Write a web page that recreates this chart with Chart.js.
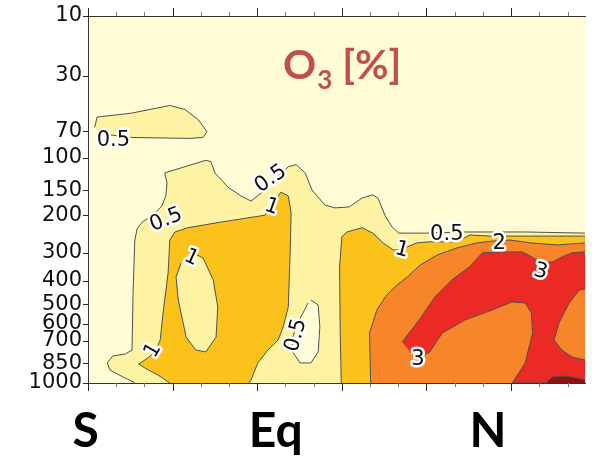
<!DOCTYPE html>
<html>
<head>
<meta charset="utf-8">
<script src="https://cdn.jsdelivr.net/npm/chart.js@4/dist/chart.umd.min.js"></script>
<style>
  html, body { margin: 0; padding: 0; background: #ffffff; }
  #wrap { width: 592px; height: 459px; position: relative; }
</style>
</head>
<body>
<div id="wrap"><canvas id="c" width="592" height="459"></canvas></div>
<script>
// Axis definitions: latitude (deg) across, pressure (hPa) down
const latTicks = [-30, -25, -20, -15, -10, -5, 0, 5, 10, 15, 20, 25, 30, 35, 40, 45, 50, 55];
const latMajorStep = 15;
const latMin = -30;
const latMax = 58.1;
const pressureTicks = [10, 30, 70, 100, 150, 200, 300, 400, 500, 600, 700, 850, 1000];
const zoneLabels = ['S', 'Eq', 'N'];
const zoneLat = [-30.4, 3.3, 40.9];

// Contour bands of the O3 change [%], as [lat, hPa] outlines
const band05Island = [[-28.8,66],[-28.4,57],[-22.5,54],[-15.5,48],[-12.8,51],[-10.5,59],[-8.9,70],[-9.6,76],[-11.9,77],[-22.5,76],[-28,72]];
const band05Main = [[-21.7,1000],[-22.0,991],[-23.8,952],[-26.1,898],[-26.6,846],[-25.6,797],[-23.4,784],[-22.2,757],
  [-22.0,437],[-21.7,263],[-21.3,233],[-20.4,216],[-18.7,202],[-16.9,180],[-16.2,160],[-16.0,137],[-16.4,121],
  [-9.1,103],[-8.2,105],[-7.5,121],[-5.2,144],[-2.9,160],[-1.1,170],[0.9,153],[3.3,129],[5.5,112],[6.9,109],
  [8.5,121],[9.7,149],[10.6,160],[12.0,178],[13.8,184],[16.3,182],[18.6,164],[20.5,158],[21.4,164],[22.7,202],
  [23.9,228],[25.1,244],[29.8,244],[36.8,241],[47.5,241],[58.1,244],[60,244],[60,1000]];
const band05Hole = [[9.5,481],[10.8,504],[11.1,617],[10.8,770],[9.5,846],[7.6,846],[6.4,777],[6.2,694],[6.9,607],[8.1,544],[9.0,495]];
const band1West = [[-15.5,1000],[-17.6,936],[-19.9,883],[-21.0,854],[-19.4,811],[-18.1,770],[-17.2,694],[-16.7,544],
  [-15.8,370],[-15.5,263],[-14.6,241],[-12.3,230],[-6.4,216],[1.4,200],[2.6,178],[4.2,153],[5.5,160],[6.0,195],
  [5.9,263],[5.7,370],[5.5,514],[4.6,617],[3.7,694],[1.9,757],[0.1,846],[-1.1,976],[-1.5,1000]];
const band1WestHole = [[-11.7,298],[-9.6,318],[-7.8,396],[-7.0,514],[-7.3,676],[-9.1,770],[-10.9,757],[-12.6,676],[-14.0,481],[-14.4,385],[-13.5,334]];
const band1East = [[14.9,1000],[14.7,635],[14.6,348],[15.0,254],[15.9,241],[18.6,230],[20.5,244],[22.3,271],[24.1,292],
  [25.3,292],[28.3,271],[30.6,268],[35.4,268],[37.7,249],[41.3,252],[48.4,252],[60,252],[60,1000]];
const band2 = [[20.1,1000],[19.9,652],[21.2,529],[22.7,467],[24.4,424],[26.6,385],[28.9,341],[31.9,308],[35.4,286],
  [39.0,271],[41.6,266],[44.8,263],[48.4,271],[53.2,277],[58.1,271],[60,271],[60,1000]];
const band3 = [[25.7,706],[28.7,580],[31.5,467],[34.5,396],[37.6,348],[39.9,301],[42.9,298],[47.0,298],[48.7,314],
  [50.1,331],[52.3,331],[54.0,314],[55.8,301],[58.1,298],[60,298],[60,424],[57.1,437],[55.3,495],[53.5,595],
  [52.6,694],[54.0,757],[55.8,804],[58.1,825],[60,825],[60,1000],[45.2,1000],[47.5,846],[48.8,652],[48.6,544],
  [47.5,495],[45.2,490],[41.6,529],[36.8,580],[32.8,652],[30.6,770],[28.9,804],[27.1,770]];
const band4 = [[51.2,1000],[52.3,952],[54.6,944],[56.9,960],[58.1,976],[60,980],[60,1000]];

// Contour level labels
const contourLabels = [
  { text: '0.5', lat: -25.5, p: 78,  angle: 0 },
  { text: '0.5', lat: -16.2, p: 209, angle: -22 },
  { text: '0.5', lat: 2.3,   p: 129, angle: -35 },
  { text: '1',   lat: 2.6,   p: 180, angle: 20 },
  { text: '1',   lat: -11.6, p: 314, angle: 25 },
  { text: '1',   lat: -18.6, p: 757, angle: -60 },
  { text: '0.5', lat: 6.7,   p: 664, angle: -75 },
  { text: '1',   lat: 25.7,  p: 289, angle: 15 },
  { text: '0.5', lat: 33.6,  p: 244, angle: 0 },
  { text: '2',   lat: 42.9,  p: 271, angle: 0 },
  { text: '3',   lat: 50.3,  p: 362, angle: 15 },
  { text: '3',   lat: 28.5,  p: 818, angle: 0 }
];

const CREAM = '#FFFCD6';
const LIGHT = '#FDF3A2';
const YELLOW = '#FCC21C';
const ORANGE = '#F7862B';
const RED = '#EB2A25';
const DARK = '#8A1414';

// vertical coordinate: pressure to the 0.2 power
const toZ = p => Math.pow(p, 0.2);

function band(points, color, order) {
  return {
    data: points.map(([lat, p]) => ({ x: lat, y: toZ(p) })),
    backgroundColor: color,
    borderColor: '#505050',
    borderWidth: 1,
    pointRadius: 0,
    pointHoverRadius: 0,
    fill: 'shape',
    tension: 0,
    order: order
  };
}

const datasets = [
  band(band05Island, LIGHT, 10),
  band(band05Main, LIGHT, 10),
  band(band05Hole, CREAM, 9),
  band(band1West, YELLOW, 8),
  band(band1East, YELLOW, 8),
  band(band1WestHole, LIGHT, 7),
  band(band2, ORANGE, 6),
  band(band3, RED, 5),
  band(band4, DARK, 4)
];

const areaBackground = {
  id: 'areaBackground',
  beforeDraw(chart) {
    const { ctx, chartArea: a } = chart;
    ctx.save();
    ctx.fillStyle = CREAM;
    ctx.fillRect(a.left, a.top, a.right - a.left, a.bottom - a.top);
    ctx.restore();
  }
};

const levelLabels = {
  id: 'levelLabels',
  afterDatasetsDraw(chart) {
    const { ctx, scales } = chart;
    ctx.save();
    ctx.font = '21px "DejaVu Sans"';
    ctx.textAlign = 'center';
    ctx.textBaseline = 'middle';
    ctx.lineJoin = 'round';
    contourLabels.forEach(l => {
      const x = scales.x.getPixelForValue(l.lat);
      const y = scales.y.getPixelForValue(toZ(l.p));
      ctx.save();
      ctx.translate(x, y);
      ctx.rotate(l.angle * Math.PI / 180);
      ctx.strokeStyle = '#ffffff';
      ctx.lineWidth = 5;
      ctx.strokeText(l.text, 0, 1);
      ctx.fillStyle = '#111111';
      ctx.fillText(l.text, 0, 1);
      ctx.restore();
    });
    ctx.restore();
  }
};

// outward tick marks on the frame, longer at every 15 degrees
const tickMarks = {
  id: 'tickMarks',
  afterDraw(chart) {
    const { ctx, scales, chartArea: a } = chart;
    ctx.save();
    ctx.lineWidth = 1;
    latTicks.forEach(v => {
      const x = Math.round(scales.x.getPixelForValue(v)) + 0.5;
      const major = v % latMajorStep === 0;
      ctx.strokeStyle = major ? '#2a2a2a' : '#7a7a7a';
      const len = major ? 8 : 4;
      ctx.beginPath();
      ctx.moveTo(x, a.top); ctx.lineTo(x, a.top - len);
      ctx.moveTo(x, a.bottom); ctx.lineTo(x, a.bottom + len);
      ctx.stroke();
    });
    ctx.strokeStyle = '#2a2a2a';
    pressureTicks.forEach(p => {
      const y = Math.round(scales.y.getPixelForValue(toZ(p))) + 0.5;
      ctx.beginPath();
      ctx.moveTo(a.left, y); ctx.lineTo(a.left - 5, y);
      ctx.stroke();
    });
    ctx.restore();
  }
};

const annotations = {
  id: 'annotations',
  afterDraw(chart) {
    const { ctx, scales } = chart;
    ctx.save();
    // panel title: O3 [%]
    ctx.fillStyle = '#C0504D';
    ctx.textAlign = 'left';
    ctx.textBaseline = 'alphabetic';
    let x = 283;
    ctx.font = '700 41px Lato';
    ctx.fillText('O', x, 79);
    x += ctx.measureText('O').width + 1;
    ctx.font = '700 26px Lato';
    ctx.fillText('3', x, 89);
    x += ctx.measureText('3').width;
    ctx.font = '700 41px Lato';
    ctx.fillText(' [%]', x, 79);
    // hemisphere markers along the latitude axis
    ctx.fillStyle = '#000000';
    ctx.textAlign = 'center';
    ctx.font = '700 48px Lato';
    zoneLabels.forEach((t, i) => {
      ctx.fillText(t, scales.x.getPixelForValue(zoneLat[i]), 447);
    });
    ctx.restore();
  }
};

new Chart(document.getElementById('c'), {
  type: 'line',
  data: { datasets },
  options: {
    responsive: false,
    animation: false,
    devicePixelRatio: 1,
    layout: { padding: { top: 8, right: 7, bottom: 0, left: 0 } },
    plugins: { legend: { display: false }, tooltip: { enabled: false }, title: { display: false } },
    events: [],
    scales: {
      x: {
        type: 'linear', position: 'bottom', min: latMin, max: latMax,
        afterBuildTicks: s => { s.ticks = latTicks.map(v => ({ value: v })); },
        afterFit: s => { s.height = 76; },
        ticks: { display: false, autoSkip: false },
        grid: { display: false },
        border: { display: true, color: '#333333', width: 1, z: 1 }
      },
      xTop: {
        type: 'linear', position: 'top', min: latMin, max: latMax,
        afterBuildTicks: s => { s.ticks = latTicks.map(v => ({ value: v })); },
        afterFit: s => { s.height = 8; },
        ticks: { display: false, autoSkip: false },
        grid: { display: false },
        border: { display: true, color: '#333333', width: 1, z: 1 }
      },
      y: {
        type: 'linear', position: 'left', reverse: true,
        min: toZ(pressureTicks[0]), max: toZ(pressureTicks[pressureTicks.length - 1]),
        afterBuildTicks: s => { s.ticks = pressureTicks.map(p => ({ value: toZ(p) })); },
        afterFit: s => { s.width = 88; },
        ticks: {
          autoSkip: false, padding: 1, color: '#111111', z: 1,
          font: { family: 'DejaVu Sans', size: 21 },
          callback: (v, i) => String(pressureTicks[i])
        },
        grid: { display: false, drawTicks: true, tickLength: 5 },
        border: { display: true, color: '#333333', width: 1, z: 1 }
      }
    }
  },
  plugins: [areaBackground, levelLabels, tickMarks, annotations]
});
</script>
</body>
</html>
